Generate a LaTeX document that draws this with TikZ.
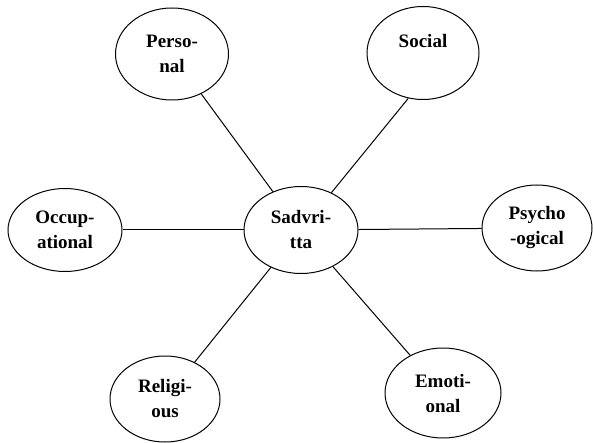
\documentclass[tikz,border=0pt]{standalone}
\usepackage{fontspec}
\setmainfont{Liberation Serif}
\usetikzlibrary{shapes.geometric}
\begin{document}
\begin{tikzpicture}[x=1pt,y=-1pt,
  bub/.style={ellipse,draw,line width=1pt,inner sep=0pt,
    font=\fontsize{19}{25}\selectfont\bfseries,align=center},
  link/.style={line width=1pt}]
\useasboundingbox (0,0) rectangle (593,443);
\node[bub,minimum width=114pt,minimum height=87pt] (c) at (301,230) {Sadvri-\\tta};
\node[bub,minimum width=113pt,minimum height=92pt] (p) at (172,54) {Perso-\\nal};
\node[bub,minimum width=112pt,minimum height=93pt] (s) at (423,53) {Social\\~};
\node[bub,minimum width=114pt,minimum height=83pt] (o) at (65,230) {Occup-\\ational};
\node[bub,minimum width=110pt,minimum height=86pt] (y) at (537,228) {Psycho\\-ogical};
\node[bub,minimum width=110pt,minimum height=86pt] (r) at (165,399) {Religi-\\ous};
\node[bub,minimum width=116pt,minimum height=90pt] (e) at (443,393) {Emoti-\\onal};
\draw[link] (c) -- (p);
\draw[link] (s.252) -- (c);
\draw[link] (c) -- (o);
\draw[link] (c) -- (y);
\draw[link] (c) -- (r);
\draw[link] (c) -- (e);
\end{tikzpicture}
\end{document}
